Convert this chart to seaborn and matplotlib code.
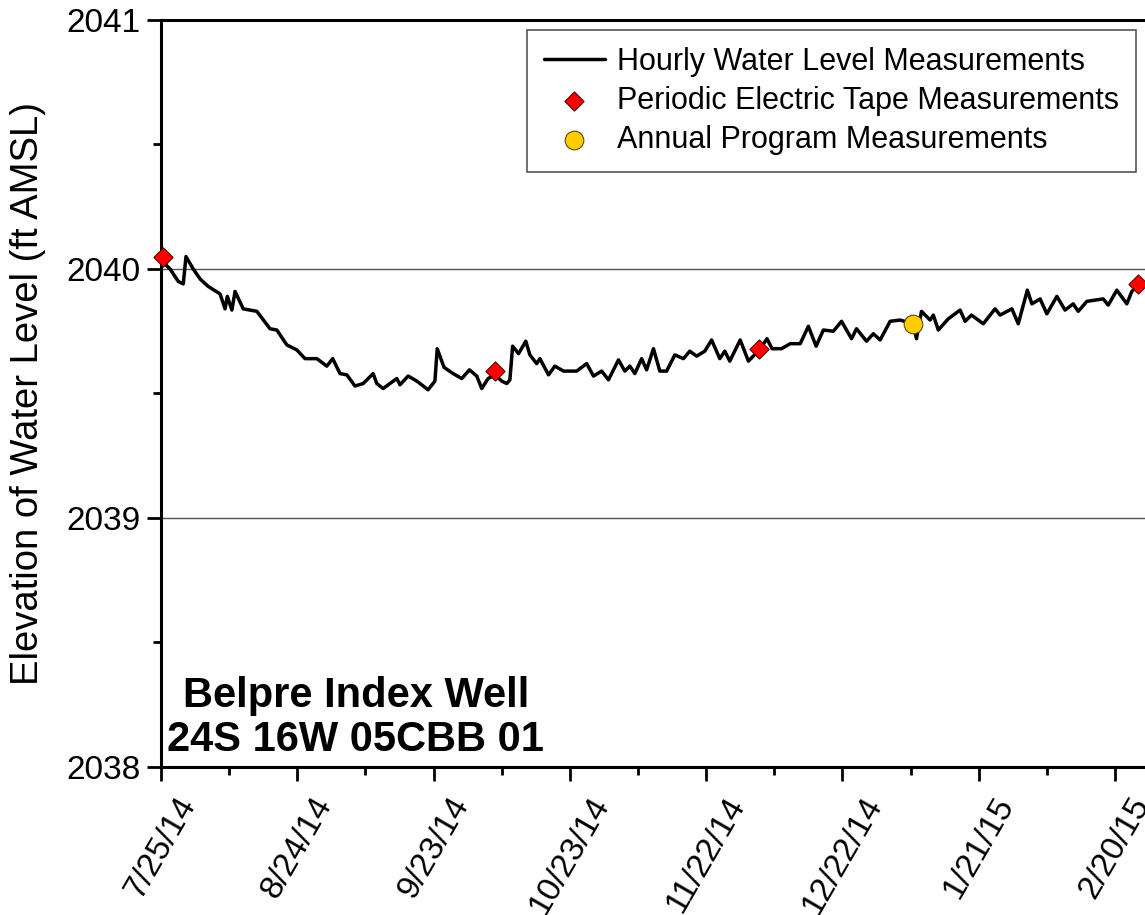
import numpy as np
import pandas as pd
import matplotlib
matplotlib.use("Agg")
import matplotlib.pyplot as plt
import matplotlib.dates as mdates
from matplotlib.ticker import FixedLocator, MultipleLocator, FuncFormatter
import seaborn as sns

# ── Data ─────────────────────────────────────────────────────────────────────
START = pd.Timestamp("2014-07-25")

# hourly logger trace, sampled: days since 7/25/14 and elevation (ft AMSL)
HOURLY_DAYS = [
    0.3, 2.0, 3.8, 4.9, 5.5, 7.1, 8.6, 10.4, 13.0, 14.1, 14.6, 15.6, 16.3, 18.1,
    21.1, 24.0, 25.5, 27.7, 29.9, 31.7, 34.3, 36.5, 37.8, 39.4, 40.9, 42.7,
    44.5, 46.7, 47.5, 48.9, 51.9, 52.6, 54.4, 56.3, 58.8, 60.3, 60.8, 62.3,
    64.3, 66.2, 67.9, 69.5, 70.6, 72.0, 73.5, 75.0, 76.1, 76.8, 77.4, 78.7,
    80.3, 81.2, 82.7, 83.4, 85.3, 86.7, 88.6, 91.5, 93.7, 95.2, 97.0, 98.5,
    100.7, 102.1, 103.2, 104.3, 105.8, 106.9, 108.4, 109.8, 111.3, 113.1,
    115.0, 116.4, 117.9, 119.7, 121.2, 123.0, 124.1, 125.2, 127.5, 129.3,
    131.7, 133.4, 134.5, 136.6, 138.5, 140.7, 142.5, 144.2, 145.8, 148.0,
    149.8, 152.0, 153.1, 155.3, 156.8, 158.3, 160.5, 162.7, 165.5, 166.3,
    167.4, 169.3, 170.0, 171.1, 173.3, 175.9, 177.0, 178.4, 181.0, 183.6,
    184.7, 187.3, 188.7, 190.7, 191.7, 193.5, 195.0, 197.2, 199.0, 200.8,
    201.9, 203.8, 207.4, 208.5, 210.4, 212.6, 213.7, 215.1,
]
HOURLY_LEVEL = [
    2040.03, 2040.00, 2039.95, 2039.94, 2040.05, 2040.00, 2039.96, 2039.93,
    2039.90, 2039.84, 2039.89, 2039.835, 2039.91, 2039.84, 2039.83, 2039.76,
    2039.755, 2039.695, 2039.675, 2039.64, 2039.64, 2039.61, 2039.64, 2039.58,
    2039.575, 2039.53, 2039.54, 2039.58, 2039.54, 2039.52, 2039.56, 2039.535,
    2039.57, 2039.55, 2039.515, 2039.55, 2039.68, 2039.605, 2039.58, 2039.56,
    2039.595, 2039.57, 2039.52, 2039.56, 2039.575, 2039.55, 2039.54, 2039.555,
    2039.69, 2039.66, 2039.71, 2039.655, 2039.62, 2039.64, 2039.575, 2039.61,
    2039.59, 2039.59, 2039.62, 2039.57, 2039.59, 2039.555, 2039.635, 2039.59,
    2039.61, 2039.58, 2039.64, 2039.595, 2039.68, 2039.59, 2039.59, 2039.655,
    2039.64, 2039.67, 2039.65, 2039.67, 2039.715, 2039.64, 2039.67, 2039.63,
    2039.715, 2039.63, 2039.675, 2039.72, 2039.68, 2039.68, 2039.70, 2039.70,
    2039.77, 2039.69, 2039.755, 2039.75, 2039.79, 2039.72, 2039.76, 2039.71,
    2039.74, 2039.715, 2039.79, 2039.795, 2039.78, 2039.72, 2039.83, 2039.795,
    2039.815, 2039.755, 2039.80, 2039.835, 2039.79, 2039.815, 2039.78, 2039.84,
    2039.815, 2039.84, 2039.78, 2039.915, 2039.86, 2039.88, 2039.82, 2039.89,
    2039.835, 2039.86, 2039.83, 2039.87, 2039.88, 2039.855, 2039.915, 2039.86,
    2039.91, 2039.935,
]

TAPE_DATES = ["2014-07-25 08:00", "2014-10-06 12:00", "2014-12-03 16:00", "2015-02-25 02:00"]
TAPE_LEVEL = [2040.05, 2039.59, 2039.68, 2039.94]

ANNUAL_DATES = ["2015-01-06 12:00"]
ANNUAL_LEVEL = [2039.78]

TICK_DATES = pd.date_range(START, periods=8, freq="30D")
MINOR_DATES = pd.date_range(START, periods=15, freq="15D")
X_END = START + pd.Timedelta(days=216.6)

WELL_TITLE = "Belpre Index Well\n24S 16W 05CBB 01"

# ── Style ────────────────────────────────────────────────────────────────────
sns.set_style("ticks")
plt.rcParams["font.family"] = ["Liberation Sans", "DejaVu Sans"]
plt.rcParams.update({"text.color": "black", "axes.labelcolor": "black",
                     "xtick.color": "black", "ytick.color": "black"})

hourly = pd.DataFrame({
    "date": START + pd.to_timedelta(HOURLY_DAYS, unit="D"),
    "level": HOURLY_LEVEL,
})
tape = pd.DataFrame({"date": pd.to_datetime(TAPE_DATES), "level": TAPE_LEVEL})
annual = pd.DataFrame({"date": pd.to_datetime(ANNUAL_DATES), "level": ANNUAL_LEVEL})

fig = plt.figure(figsize=(11.45, 9.15), dpi=100)
ax = fig.add_axes([161 / 1145, 148 / 915, 984 / 1145, 747 / 915])

sns.lineplot(data=hourly, x="date", y="level", color="black", linewidth=2.5,
             label="Hourly Water Level Measurements", ax=ax, zorder=3)
sns.scatterplot(data=tape, x="date", y="level", marker="D", s=95,
                color="#FF0000", edgecolor="#5a0000", linewidth=0.8,
                label="Periodic Electric Tape Measurements", ax=ax, zorder=4,
                clip_on=False)
sns.scatterplot(data=annual, x="date", y="level", marker="o", s=180,
                color="#FFCC00", edgecolor="#5a4a00", linewidth=0.8,
                label="Annual Program Measurements", ax=ax, zorder=4)

# axes
ax.set_xlim(START, X_END)
ax.set_ylim(2038, 2041)
ax.yaxis.set_major_locator(MultipleLocator(1))
ax.yaxis.set_minor_locator(MultipleLocator(0.5))
ax.yaxis.set_major_formatter(FuncFormatter(lambda v, _: f"{v:.0f}"))
ax.xaxis.set_major_locator(FixedLocator(mdates.date2num(TICK_DATES)))
ax.xaxis.set_minor_locator(FixedLocator(mdates.date2num(MINOR_DATES)))
ax.xaxis.set_major_formatter(FuncFormatter(
    lambda v, _: (lambda d: f"{d.month}/{d.day}/{d:%y}")(mdates.num2date(v))))

ax.tick_params(axis="both", which="major", direction="out", length=10,
               width=2, labelsize=24, color="black", labelcolor="black")
ax.tick_params(axis="both", which="minor", direction="out", length=6,
               width=2, color="black")
ax.tick_params(axis="y", which="major", pad=5)
ax.tick_params(axis="x", which="major", pad=8)
for lbl in ax.get_xticklabels():
    lbl.set_rotation(60)
    lbl.set_ha("center")
    lbl.set_va("top")

ax.set_xlabel("")
ax.set_ylabel("Elevation of Water Level (ft AMSL)", fontsize=27.5, color="black")
ax.yaxis.set_label_coords(-0.117, 0.5)

ax.yaxis.grid(True, color="#555555", linewidth=1.0)
ax.xaxis.grid(False)
for side in ["left", "bottom", "top"]:
    ax.spines[side].set_color("black")
    ax.spines[side].set_linewidth(2.2)
ax.spines["right"].set_visible(False)

# well name
ax.text(0.198, 0.066, WELL_TITLE, transform=ax.transAxes, ha="center",
        va="center", fontsize=30, fontweight="bold", linespacing=1.12,
        color="black")

# legend
leg = ax.legend(loc="upper left", bbox_to_anchor=(527 / 1145, 1 - 30 / 915),
                bbox_transform=fig.transFigure, fontsize=22, frameon=True,
                fancybox=False, framealpha=1, edgecolor="#555555",
                borderaxespad=0, handlelength=2.0, handletextpad=0.4,
                labelspacing=0.3, borderpad=0.55)
leg.get_frame().set_linewidth(1.2)
for t in leg.get_texts():
    t.set_color("black")

fig.savefig("out.png", dpi=100)
